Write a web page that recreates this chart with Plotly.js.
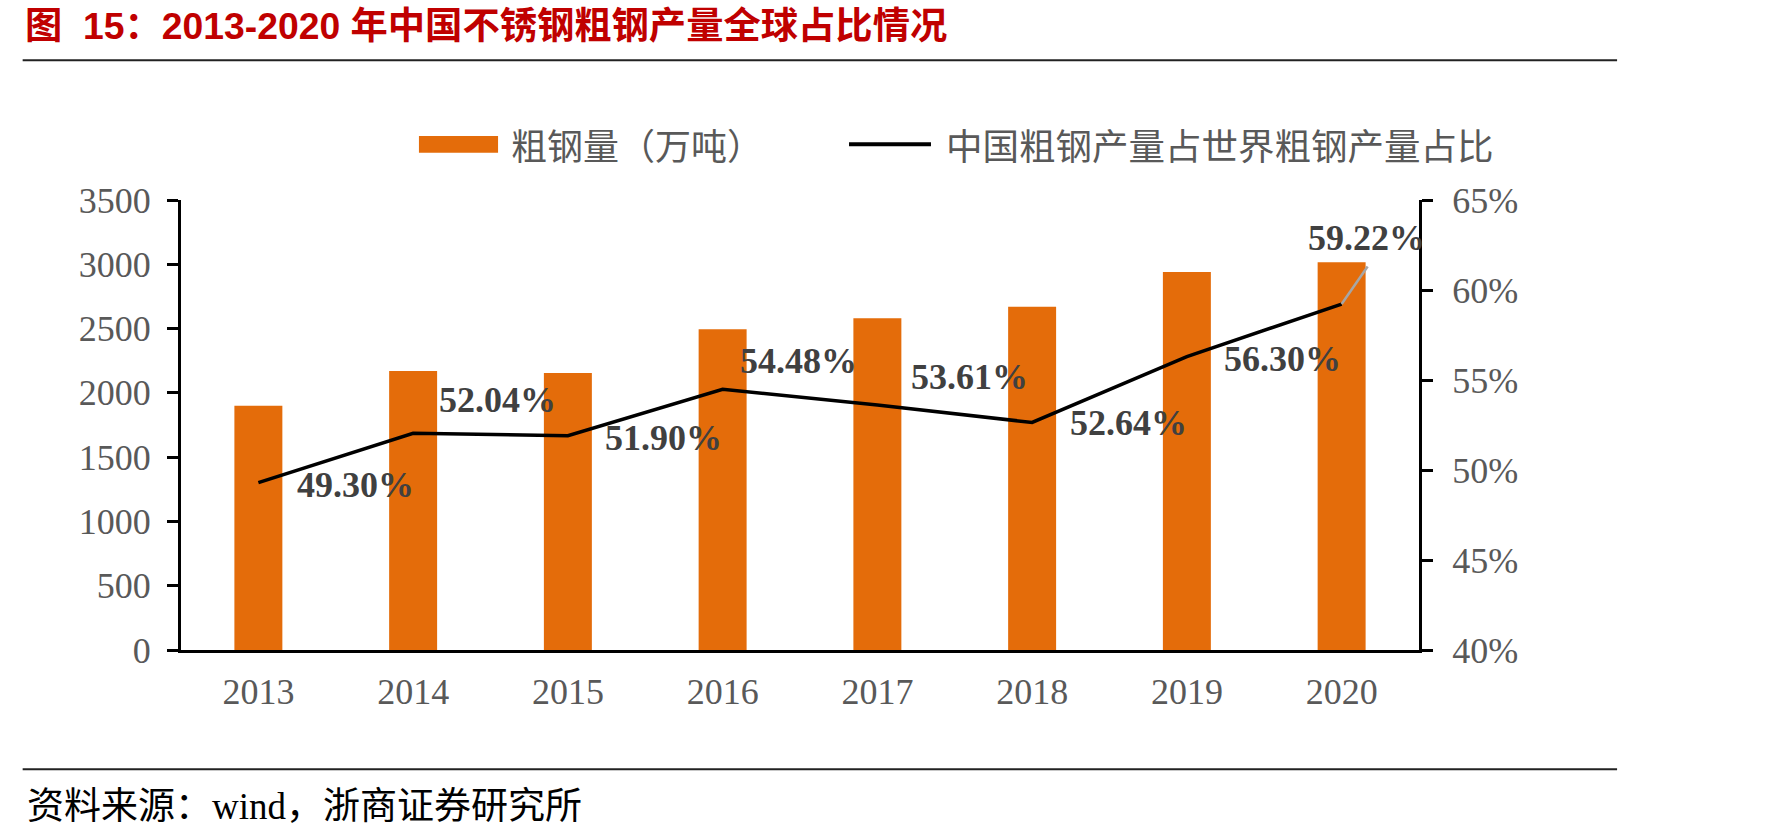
<!DOCTYPE html>
<html>
<head>
<meta charset="utf-8">
<script src="https://cdn.plot.ly/plotly-3.0.1.min.js"></script>
<style>
  html, body { margin: 0; padding: 0; background: #fff; }
  #chart { width: 1771px; height: 839px; }
</style>
</head>
<body>
<div id="chart"></div>
<script>
// Years on the category axis
const years = ['2013', '2014', '2015', '2016', '2017', '2018', '2019', '2020'];
// China stainless crude steel output, 10k tonnes (bars, left axis)
const output = [1900, 2170, 2155, 2494, 2580, 2670, 2940, 3015];
// China's share of world stainless crude steel output, % (line, right axis)
const share = [49.30, 52.04, 51.90, 54.48, 53.61, 52.64, 56.30, 59.22];

const barName = '粗钢量（万吨）';
const lineName = '中国粗钢产量占世界粗钢产量占比';
const titleText = '图\u00a0\u00a015：2013-2020 年中国不锈钢粗钢产量全球占比情况';
const sourceText = '资料来源：wind，浙商证券研究所';

// Pixel offsets of each share label from its point (x right, y up)
const labelShiftX = [97, 84, 96, 76, 92, 96, 96, 25];
const labelShiftY = [-2, 33, -2, 28, 28, -1, -2, 66];

const ORANGE = '#E46C0A';
const TICK_GREY = '#595959';
const LABEL_GREY = '#404040';
const SERIF = '"Liberation Serif", "Times New Roman", "Noto Sans CJK SC", serif';
const CJK = '"Noto Sans CJK SC", "Liberation Serif", sans-serif';

const shareFrac = share.map(v => v / 100);

const traces = [
  {
    type: 'bar',
    name: barName,
    x: years,
    y: output,
    marker: { color: ORANGE },
    yaxis: 'y',
    hoverinfo: 'x+y'
  },
  {
    type: 'scatter',
    mode: 'lines',
    name: lineName,
    x: years,
    y: shareFrac,
    yaxis: 'y2',
    line: { color: '#000000', width: 3.5 },
    hoverinfo: 'x+y'
  }
];

// Value labels for the share line (category axes take the serial index)
const annotations = share.map((v, i) => ({
  x: i,
  y: shareFrac[i],
  xref: 'x',
  yref: 'y2',
  text: v.toFixed(2) + '%',
  showarrow: false,
  xanchor: 'center',
  yanchor: 'middle',
  xshift: labelShiftX[i],
  yshift: labelShiftY[i],
  font: { family: SERIF, size: 36, color: LABEL_GREY, weight: 'bold' }
}));

// Legend entries drawn as text beside their swatches, plus the source note
annotations.push(
  {
    xref: 'paper', yref: 'paper', x: 0.2646, y: 1.1244,
    xanchor: 'left', yanchor: 'middle', showarrow: false,
    text: barName,
    font: { family: CJK, size: 36, color: TICK_GREY }
  },
  {
    xref: 'paper', yref: 'paper', x: 0.6161, y: 1.1244,
    xanchor: 'left', yanchor: 'middle', showarrow: false,
    text: lineName,
    font: { family: CJK, size: 36.5, color: TICK_GREY }
  },
  {
    xref: 'paper', yref: 'paper', x: -0.1264, y: -0.3467,
    xanchor: 'left', yanchor: 'middle', showarrow: false,
    text: sourceText,
    font: { family: SERIF, size: 37, color: '#000000' }
  }
);

const lastIdx = years.length - 1;

const shapes = [
  // legend swatches
  { type: 'rect', xref: 'paper', yref: 'paper', x0: 0.1922, x1: 0.2561, y0: 1.1051, y1: 1.1422,
    fillcolor: ORANGE, line: { width: 0 } },
  { type: 'line', xref: 'paper', yref: 'paper', x0: 0.5396, x1: 0.6058, y0: 1.1238, y1: 1.1238,
    line: { color: '#000000', width: 4 } },
  // header and footer rules
  { type: 'line', xref: 'paper', yref: 'paper', x0: -0.1279, x1: 1.16, y0: 1.3104, y1: 1.3104,
    line: { color: '#222222', width: 2 } },
  { type: 'line', xref: 'paper', yref: 'paper', x0: -0.1279, x1: 1.16, y0: -0.2651, y1: -0.2651,
    line: { color: '#222222', width: 2 } },
  // leader line from the last point to its label
  { type: 'line', xref: 'x', yref: 'y2',
    xsizemode: 'pixel', xanchor: lastIdx, x0: 0, x1: 26,
    ysizemode: 'pixel', yanchor: shareFrac[lastIdx], y0: 0, y1: 37.6,
    line: { color: '#A6A6A6', width: 2.5 } }
];

const layout = {
  width: 1771,
  height: 839,
  margin: { l: 181, r: 352, t: 200, b: 189, pad: 0 },
  paper_bgcolor: '#ffffff',
  plot_bgcolor: '#ffffff',
  showlegend: false,
  bargap: 0.69,
  title: {
    text: titleText,
    x: 0.0141,
    xanchor: 'left',
    xref: 'container',
    y: 0.969,
    yanchor: 'middle',
    yref: 'container',
    font: { family: '"Liberation Sans", Arial, "Noto Sans CJK SC", sans-serif', size: 37.3, color: '#C00000', weight: 'bold' }
  },
  xaxis: {
    type: 'category',
    categoryorder: 'array',
    categoryarray: years,
    range: [-0.5, years.length - 0.5],
    autorange: false,
    showline: true,
    linecolor: '#000000',
    linewidth: 3,
    ticks: '',
    showgrid: false,
    zeroline: false,
    ticklabelstandoff: 8,
    tickfont: { family: SERIF, size: 36, color: TICK_GREY }
  },
  yaxis: {
    range: [0, 3500],
    autorange: false,
    dtick: 500,
    tick0: 0,
    showline: true,
    linecolor: '#000000',
    linewidth: 3,
    ticks: 'outside',
    ticklen: 11,
    tickwidth: 3,
    tickcolor: '#000000',
    showgrid: false,
    zeroline: false,
    ticklabelstandoff: 9,
    tickfont: { family: SERIF, size: 36, color: TICK_GREY }
  },
  yaxis2: {
    overlaying: 'y',
    side: 'right',
    range: [0.40, 0.65],
    autorange: false,
    dtick: 0.05,
    tick0: 0.40,
    tickformat: '.0%',
    showline: true,
    linecolor: '#000000',
    linewidth: 3,
    ticks: 'outside',
    ticklen: 11,
    tickwidth: 3,
    tickcolor: '#000000',
    showgrid: false,
    zeroline: false,
    ticklabelstandoff: 12,
    tickfont: { family: SERIF, size: 36, color: TICK_GREY }
  },
  annotations: annotations,
  shapes: shapes
};

Plotly.newPlot('chart', traces, layout, { displayModeBar: false, staticPlot: true });
</script>
</body>
</html>
